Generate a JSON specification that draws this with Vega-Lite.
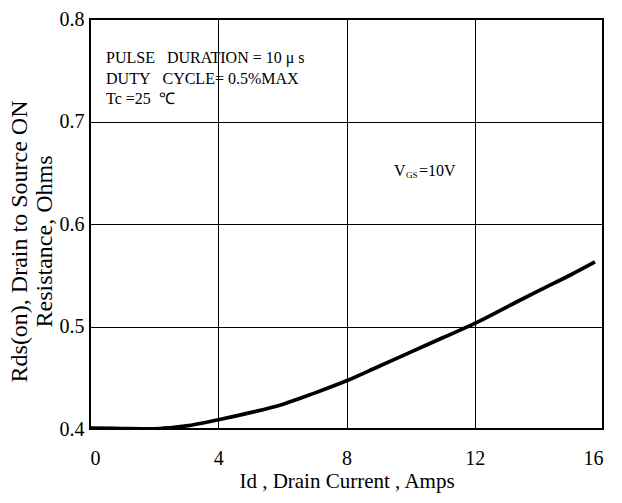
{
  "$schema": "https://vega.github.io/schema/vega-lite/v6.json",
  "width": 513,
  "height": 410,
  "autosize": "none",
  "padding": {"left": 90, "top": 19, "right": 19, "bottom": 74},
  "background": "white",
  "config": {
    "font": "Liberation Serif",
    "view": {"stroke": "black", "strokeWidth": 2},
    "axis": {
      "grid": true,
      "gridColor": "black",
      "gridOpacity": 1,
      "gridWidth": 1,
      "domain": false,
      "ticks": false,
      "labelFont": "Liberation Serif",
      "labelFontSize": 20,
      "labelColor": "black",
      "titleFont": "Liberation Serif",
      "titleFontWeight": "normal",
      "titleColor": "black"
    }
  },
  "datasets": {
    "curve": [
      {"id": 0, "rds": 0.401},
      {"id": 1, "rds": 0.4005},
      {"id": 2, "rds": 0.4002},
      {"id": 2.5, "rds": 0.4012},
      {"id": 3, "rds": 0.403},
      {"id": 4, "rds": 0.409},
      {"id": 5, "rds": 0.416},
      {"id": 6, "rds": 0.424},
      {"id": 7, "rds": 0.435},
      {"id": 8, "rds": 0.447},
      {"id": 9, "rds": 0.461},
      {"id": 10, "rds": 0.475},
      {"id": 11, "rds": 0.489},
      {"id": 12, "rds": 0.503},
      {"id": 13, "rds": 0.519},
      {"id": 14, "rds": 0.535},
      {"id": 15, "rds": 0.5505},
      {"id": 15.75, "rds": 0.563}
    ],
    "notes": [
      {"label": "PULSE\u00a0\u00a0\u00a0DURATION\u00a0= 10\u00a0μ\u00a0s", "nx": 0.5, "ny": 0.762},
      {"label": "DUTY\u00a0\u00a0\u00a0CYCLE= 0.5%MAX", "nx": 0.5, "ny": 0.741},
      {"label": "Tc =25\u00a0\u00a0℃", "nx": 0.5, "ny": 0.722}
    ]
  },
  "layer": [
    {
      "data": {"name": "curve"},
      "mark": {"type": "line", "color": "black", "strokeWidth": 3.7, "interpolate": "monotone", "clip": true},
      "encoding": {
        "x": {
          "field": "id",
          "type": "quantitative",
          "scale": {"domain": [0, 16], "nice": false},
          "axis": {"values": [0, 4, 8, 12, 16], "labelPadding": 19, "title": "Id , Drain Current , Amps", "titleFontSize": 21, "titlePadding": 2}
        },
        "y": {
          "field": "rds",
          "type": "quantitative",
          "scale": {"domain": [0.4, 0.8], "nice": false, "zero": false},
          "axis": {"values": [0.4, 0.5, 0.6, 0.7, 0.8], "format": ".1f", "labelPadding": 6,
                   "title": ["Rds(on), Drain to Source ON", "Resistance, Ohms"], "titleFontSize": 24, "titlePadding": 3, "titleLineHeight": 25, "titleY": 222}
        }
      }
    },
    {
      "data": {"name": "notes"},
      "mark": {"type": "text", "align": "left", "baseline": "middle", "fontSize": 16, "color": "black", "font": "Liberation Serif"},
      "encoding": {
        "x": {"field": "nx", "type": "quantitative"},
        "y": {"field": "ny", "type": "quantitative"},
        "text": {"field": "label"}
      }
    },
    {
      "data": {"values": [{"t": "V"}]},
      "mark": {"type": "text", "align": "left", "baseline": "middle", "fontSize": 16, "color": "black", "font": "Liberation Serif"},
      "encoding": {"x": {"datum": 9.48}, "y": {"datum": 0.652}, "text": {"field": "t"}}
    },
    {
      "data": {"values": [{"t": "GS"}]},
      "mark": {"type": "text", "align": "left", "baseline": "middle", "fontSize": 9, "dx": 12, "dy": 4, "color": "black", "font": "Liberation Serif"},
      "encoding": {"x": {"datum": 9.48}, "y": {"datum": 0.652}, "text": {"field": "t"}}
    },
    {
      "data": {"values": [{"t": "=10V"}]},
      "mark": {"type": "text", "align": "left", "baseline": "middle", "fontSize": 16, "dx": 25, "color": "black", "font": "Liberation Serif"},
      "encoding": {"x": {"datum": 9.48}, "y": {"datum": 0.652}, "text": {"field": "t"}}
    }
  ]
}
